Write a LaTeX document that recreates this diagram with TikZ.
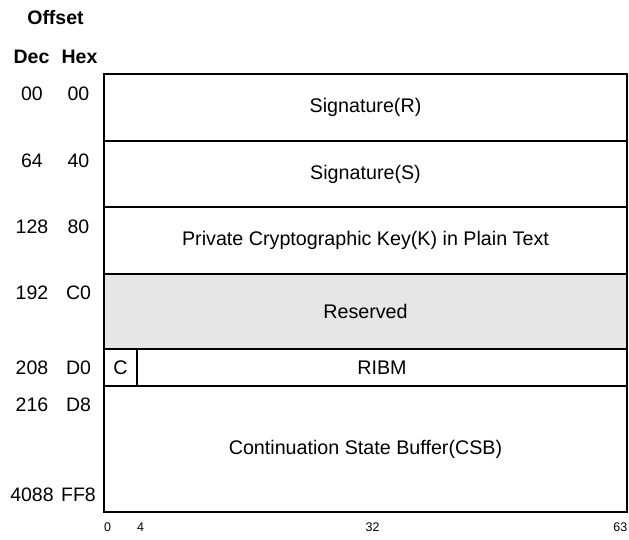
\documentclass[tikz,border=0pt]{standalone}
\usepackage{fontspec}
\setmainfont{Liberation Sans}
\usetikzlibrary{positioning}
\definecolor{rsvGray}{RGB}{230,230,230}
\tikzset{
  field/.style={rectangle, draw=black, line width=2pt, minimum width=523pt,
                inner sep=0pt, outer sep=0pt, anchor=north west,
                font=\fontsize{19.7}{22}\selectfont},
  offs/.style={inner sep=0pt, font=\fontsize{19.5}{22}\selectfont},
  hdr/.style={inner sep=0pt, font=\fontsize{19.5}{22}\selectfont\bfseries},
  bitlbl/.style={inner sep=0pt, anchor=north west, font=\fontsize{12.5}{14}\selectfont},
}
\begin{document}
\begin{tikzpicture}[x=1pt,y=-1pt]
  \useasboundingbox (0,0) rectangle (629,539);

  % header
  \node[hdr] (offset) at (55.5,18) {Offset};
  \node[hdr] (dec) at (31.5,57) {Dec};
  \node[hdr] (hex) at (79.5,57) {Hex};

  % fields
  \node[field, minimum height=67pt] (sigr) at (104,74) {Signature(R)};
  \node[field, minimum height=66pt] (sigs) at (sigr.south west) {Signature(S)};
  \node[field, minimum height=67pt] (pkey) at (sigs.south west) {Private Cryptographic Key(K) in Plain Text};
  \node[field, minimum height=75pt, fill=rsvGray] (rsv) at (pkey.south west) {Reserved};
  \node[field, minimum height=37pt, minimum width=33pt] (cbit) at (rsv.south west) {C};
  \node[field, minimum height=37pt, minimum width=490pt] (ribm) at (cbit.north east) {RIBM};
  \node[field, minimum height=126pt] (csb) at (cbit.south west) {Continuation State Buffer(CSB)};

  % offsets
  \foreach \d/\h/\y in {00/00/94, 64/40/161, 128/80/227, 192/C0/293,
                        208/D0/368, 216/D8/405, 4088/FF8/495}{
    \node[offs] (dec\d) at (32,\y) {\d};
    \node[offs] (hex\d) at (78.5,\y) {\h};
  }

  % bit positions
  \node[bitlbl] (b0) at (104,523) {0};
  \node[bitlbl] (b4) at (137,523) {4};
  \node[bitlbl] (b32) at (365.5,523) {32};
  \node[bitlbl, anchor=north east] (b63) at (627.5,523) {63};
\end{tikzpicture}
\end{document}
